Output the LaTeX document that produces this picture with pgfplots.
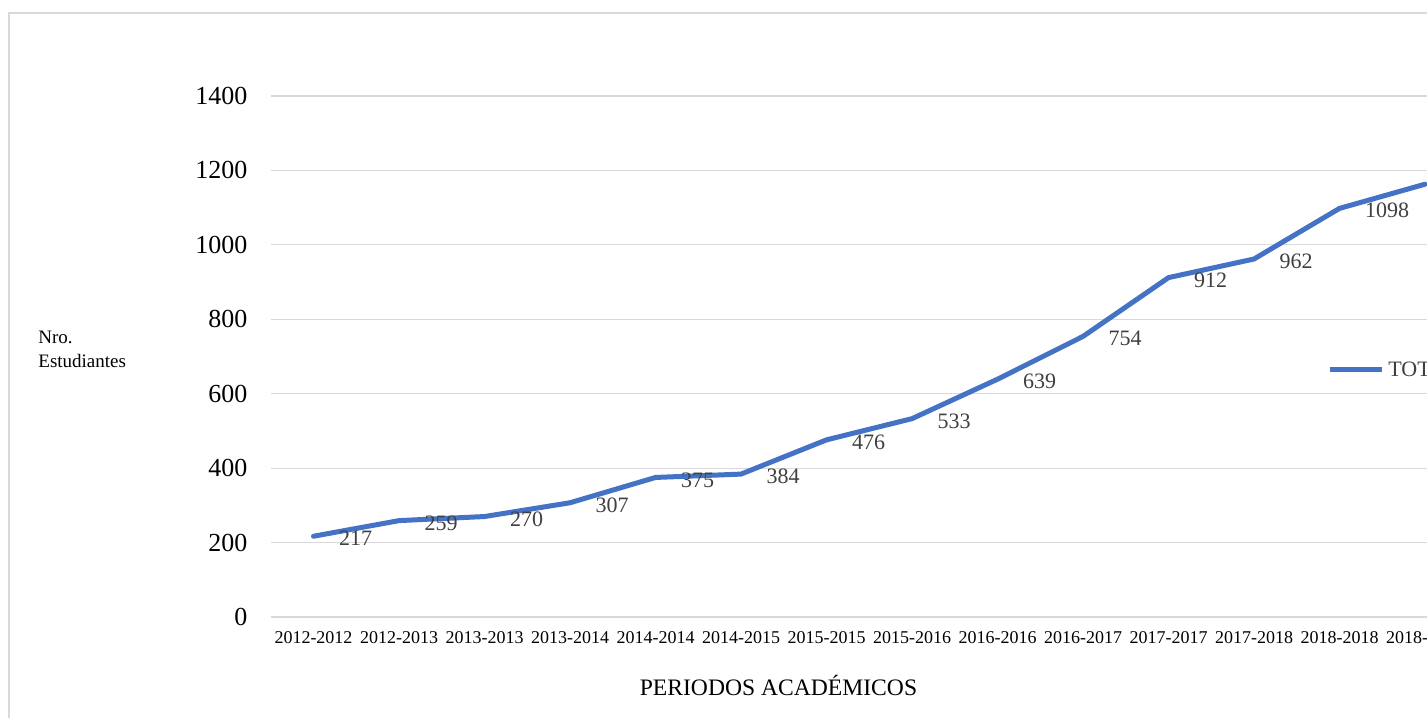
\documentclass[border=0pt]{standalone}
\usepackage{pgfplots}
\pgfplotsset{compat=1.18}
\usepackage{fontspec}
\setmainfont{Liberation Serif}
\definecolor{excelblue}{HTML}{4472C4}
\definecolor{gridgray}{HTML}{D9D9D9}
\definecolor{labelgray}{HTML}{404040}
\begin{document}
\begin{tikzpicture}
\useasboundingbox (0pt,0pt) rectangle (713.5pt,-358.5pt);
\fill[white] (0pt,0pt) rectangle (713.5pt,-358.5pt);
\draw[gridgray, line width=1pt] (4.5pt,-400pt) -- (4.5pt,-6.5pt) -- (800pt,-6.5pt);
\begin{axis}[
  at={(135.375pt,-308.5pt)}, anchor=south west,
  scale only axis, width=598.5pt, height=260.5pt,
  xmin=-0.5, xmax=13.5, ymin=0, ymax=1400,
  xtick={0,...,13},
  xticklabels={2012-2012,2012-2013,2013-2013,2013-2014,2014-2014,2014-2015,2015-2015,2015-2016,2016-2016,2016-2017,2017-2017,2017-2018,2018-2018,2018-2019},
  ytick={0,200,...,1400},
  major tick length=0pt,
  axis line style={draw=none},
  ymajorgrids, grid style={gridgray, line width=0.6pt},
  /pgf/number format/assume math mode=true,
  /pgf/number format/set thousands separator={},
  yticklabel style={font=\fontsize{13}{13}\selectfont, inner sep=0pt, anchor=east, xshift=-11.5pt},
  xticklabel style={font=\fontsize{9}{9}\selectfont, inner sep=0pt, anchor=north, yshift=-7pt},
  nodes near coords,
  every node near coord/.append style={font=\fontsize{11}{11}\selectfont, text=labelgray, anchor=west, inner sep=0pt, xshift=11.5pt, yshift=-1.2pt},
  clip=true,
]
\addplot[excelblue, line width=2.5pt, line join=round, line cap=round] coordinates {
(0,217) (1,259) (2,270) (3,307) (4,375) (5,384) (6,476) (7,533) (8,639) (9,754) (10,912) (11,962) (12,1098) (13,1163)
};
\end{axis}
\draw[excelblue, line width=2.5pt] (665pt,-184.5pt) -- (691pt,-184.5pt);
\node[anchor=west, inner sep=0pt, font=\fontsize{11}{11}\selectfont, text=labelgray] at (694pt,-184.5pt) {TOTAL};
\node[anchor=west, inner sep=0pt, align=left, font=\fontsize{9.5}{12}\selectfont] at (19pt,-174.5pt) {Nro.\\Estudiantes};
\node[inner sep=0pt, font=\fontsize{11.8}{12}\selectfont] at (389.25pt,-342.5pt) {PERIODOS ACADÉMICOS};
\end{tikzpicture}
\end{document}
